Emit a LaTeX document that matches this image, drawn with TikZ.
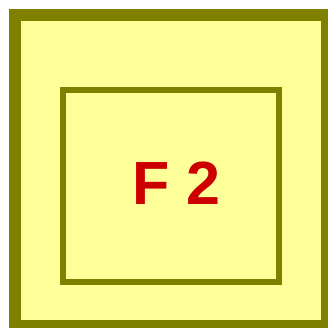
\documentclass[tikz,border=0pt]{standalone}
\usepackage{fontspec}
\setmainfont{Liberation Sans}
\usepackage{xcolor}
\definecolor{frameolive}{HTML}{808000}
\definecolor{paleyellow}{HTML}{FFFF99}
\definecolor{labelred}{HTML}{CC0000}

\begin{document}
\begin{tikzpicture}[x=1pt,y=-1pt]
    \tikzset{
        frame/.style={draw=frameolive,fill=paleyellow,line join=miter},
        flabel/.style={text=labelred,inner sep=0pt,font=\fontsize{61}{61}\selectfont\bfseries}
    }
    \useasboundingbox (0,0) rectangle (328,328);
    \begin{scope}
        \clip (0,0) rectangle (328,328);
        \draw[frame,line width=12] (15,15) rectangle (327,326);
    \end{scope}
    \draw[frame,line width=6] (63,90) rectangle (279,282);
    \node[flabel] (f2) at (176.5,183.5) {F 2};
\end{tikzpicture}
\end{document}
